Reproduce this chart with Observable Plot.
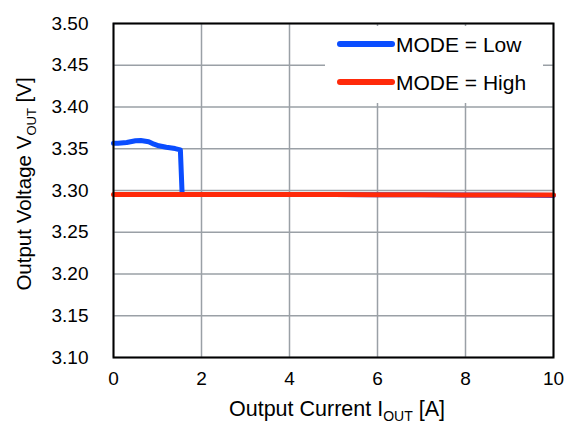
<!DOCTYPE html>
<html><head><meta charset="utf-8">
<script src="https://cdn.jsdelivr.net/npm/d3@7"></script>
<script src="https://cdn.jsdelivr.net/npm/@observablehq/plot@0.6"></script>
<style>body{margin:0;background:#fff;font-family:"Liberation Sans",Arial,sans-serif}</style>
</head><body><div id="chart"></div>
<script>
const xTicks = [0, 2, 4, 6, 8, 10];
const yTicks = [3.10, 3.15, 3.20, 3.25, 3.30, 3.35, 3.40, 3.45, 3.50];
const seriesNames = ["MODE = Low", "MODE = High"];
const seriesColors = ["#0a4dff", "#ff2a0a"];
const lowX = [0, 0.1, 0.3, 0.5, 0.62, 0.8, 0.92, 1.03, 1.2, 1.4, 1.52, 1.56, 2, 3, 4, 5, 6, 7, 8, 9, 10];
const lowY = [3.3565, 3.3565, 3.3575, 3.3595, 3.3598, 3.3585, 3.3555, 3.3535, 3.3518, 3.3502, 3.3487, 3.2953, 3.2953, 3.2953, 3.2953, 3.2953, 3.295, 3.295, 3.2945, 3.2945, 3.294];
const highX = [0, 1, 2, 3, 4, 5, 6, 7, 8, 9, 10];
const highY = [3.2953, 3.2953, 3.2953, 3.2953, 3.2953, 3.2953, 3.295, 3.295, 3.2945, 3.2945, 3.2945];

const low = lowX.map((x, i) => ({x, y: lowY[i], s: seriesNames[0]}));
const high = highX.map((x, i) => ({x, y: highY[i], s: seriesNames[1]}));

const FONT = '"Liberation Sans", Arial, sans-serif';

const plot = Plot.plot({
  width: 566, height: 427,
  marginLeft: 113, marginRight: 13, marginTop: 23, marginBottom: 70,
  style: {fontFamily: FONT, color: "#000", background: "#fff"},
  x: {domain: [0, 10], label: null},
  y: {domain: [3.10, 3.50], label: null},
  marks: [
    Plot.gridX(xTicks, {stroke: "#9aa0a6", strokeOpacity: 1, strokeWidth: 1.5}),
    Plot.gridY(yTicks, {stroke: "#9aa0a6", strokeOpacity: 1, strokeWidth: 1.5}),
    Plot.axisX(xTicks, {tickSize: 0, tickPadding: 14, tickFormat: d => String(d), label: null, fontSize: 19}),
    Plot.axisY(yTicks, {tickSize: 0, tickPadding: 25, tickFormat: d3.format(".2f"), label: null, fontSize: 19}),
    Plot.line(low, {x: "x", y: "y", stroke: seriesColors[0], strokeWidth: 5, curve: "linear"}),
    Plot.line(high, {x: "x", y: "y", stroke: seriesColors[1], strokeWidth: 5, curve: "linear"}),
    Plot.frame({stroke: "#000", strokeWidth: 2})
  ]
});
document.getElementById("chart").appendChild(plot);

const svg = d3.select(plot);
svg.selectAll("text").style("font-size", "19px").style("font-family", FONT).style("fill", "#000");

// legend
const lg = svg.append("g");
lg.append("rect").attr("x", 325).attr("y", 26).attr("width", 218).attr("height", 77).attr("fill", "#fff");
seriesNames.forEach((name, i) => {
  const yy = 44 + i * 38;
  lg.append("line").attr("x1", 340).attr("x2", 392).attr("y1", yy).attr("y2", yy)
    .attr("stroke", seriesColors[i]).attr("stroke-width", 6).attr("stroke-linecap", "round");
  lg.append("text").attr("x", 396).attr("y", yy).attr("dy", "0.36em").attr("text-anchor", "start")
    .style("text-anchor", "start")
    .style("font-size", "21px").style("font-family", FONT).style("fill", "#000").text(name);
});
// axis titles with subscripts
function title(sel, main, sub, tail, size) {
  sel.style("font-size", size + "px").style("font-family", FONT).style("fill", "#000")
    .attr("text-anchor", "middle").style("text-anchor", "middle");
  sel.append("tspan").text(main);
  sel.append("tspan").style("font-size", Math.round(size * 0.64) + "px").attr("dy", 5).text(sub);
  sel.append("tspan").attr("dy", -5).text(tail);
}
title(svg.append("text").attr("x", 337).attr("y", 416), "Output Current I", "OUT", " [A]", 21.5);
title(svg.append("text").attr("transform", "translate(31,184) rotate(-90)"), "Output Voltage V", "OUT", " [V]", 20.5);
</script>
</body></html>
